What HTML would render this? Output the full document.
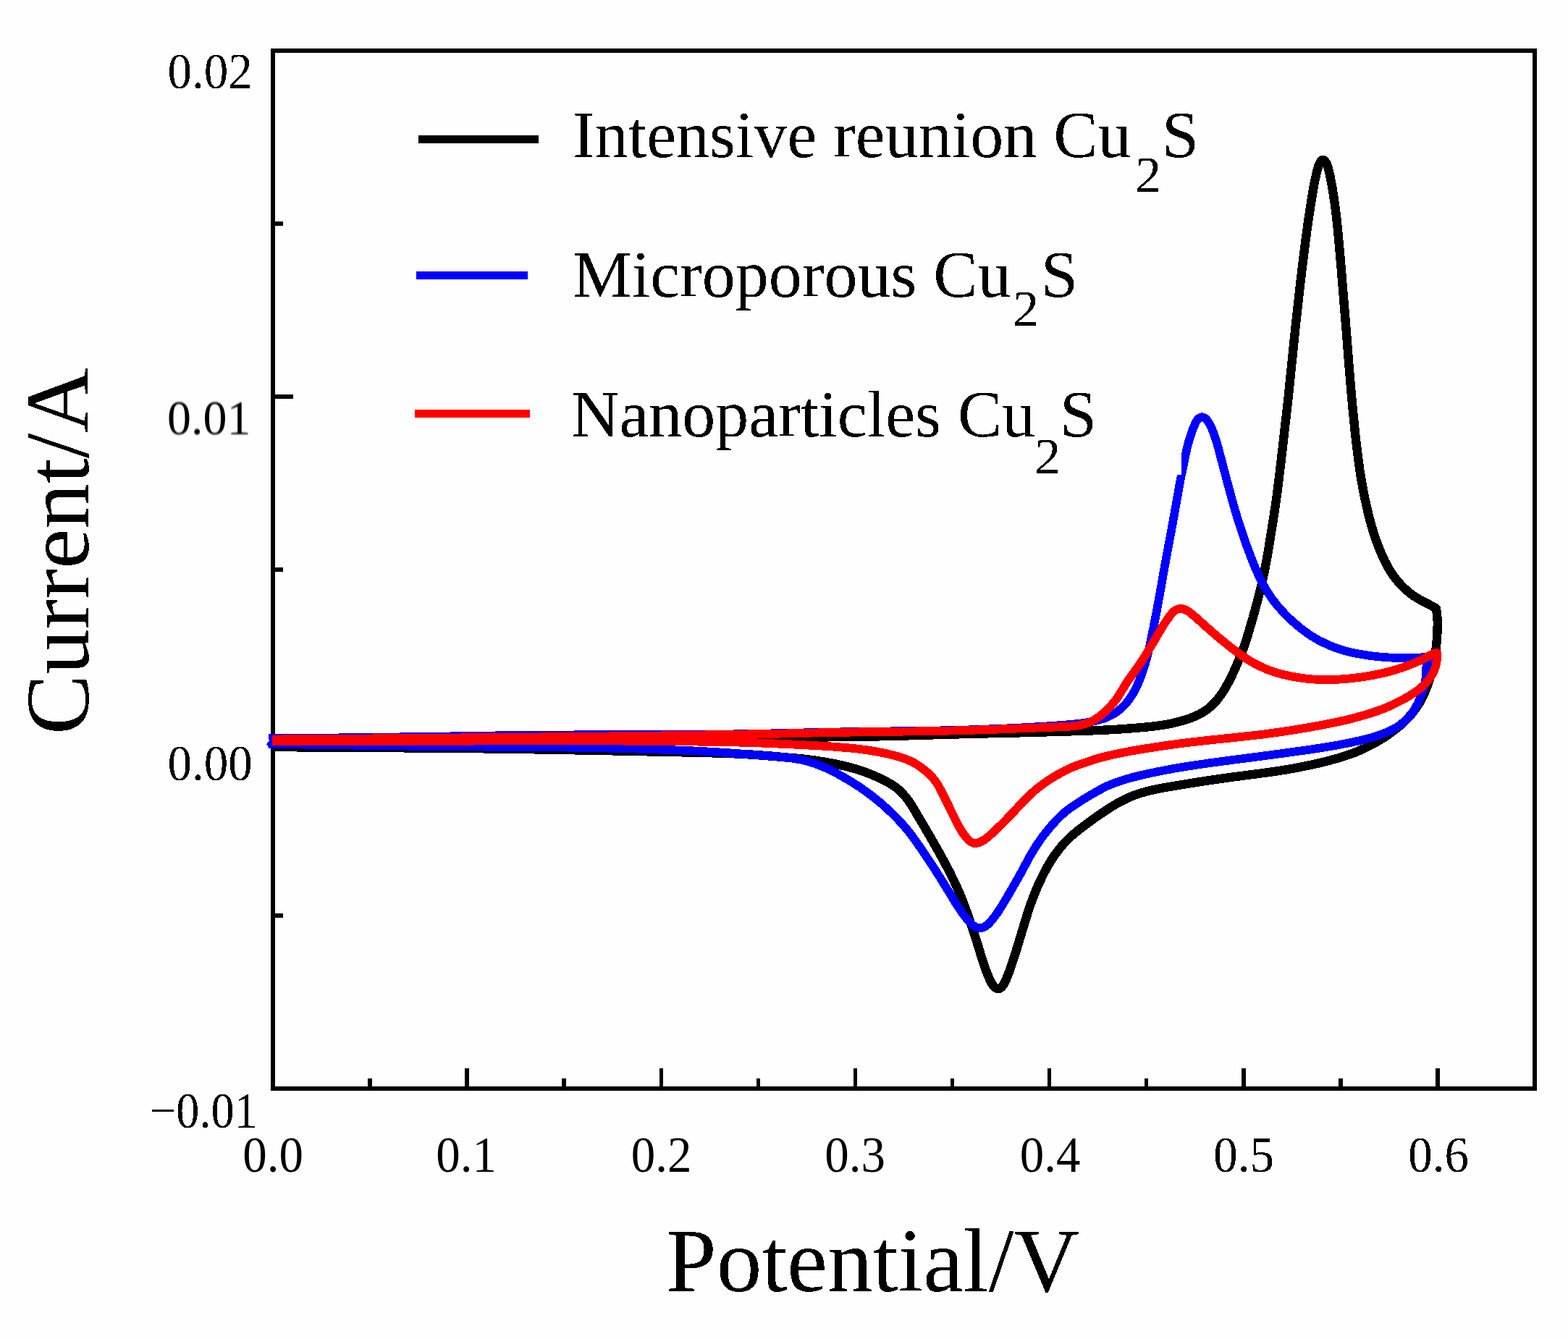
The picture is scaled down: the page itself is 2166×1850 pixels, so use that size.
<!DOCTYPE html>
<html lang="en"><head><meta charset="utf-8"><title>Cyclic voltammetry of Cu2S samples</title>
<style>
html,body{margin:0;padding:0;background:#fefefe;}
body{width:2166px;height:1850px;overflow:hidden;}
svg{display:block;}
text{font-family:"Liberation Serif","DejaVu Serif",serif;fill:#000;}
.tk{font-size:67px;}
.ax{font-size:125px;}
.lg{font-size:92px;}
.sb{font-size:66px;}
.c path{fill:none;stroke-linejoin:round;stroke-linecap:butt;}
</style></head><body>
<svg width="2166" height="1850" viewBox="0 0 2166 1850">
<defs>
<filter id="bw" x="-5%" y="-20%" width="110%" height="140%" color-interpolation-filters="sRGB"><feComponentTransfer><feFuncA type="discrete" tableValues="0 1"/></feComponentTransfer></filter>
<filter id="soft" x="-5%" y="-20%" width="110%" height="140%" color-interpolation-filters="sRGB"><feGaussianBlur stdDeviation="0.8"/></filter>
<filter id="soft2" x="-5%" y="-20%" width="110%" height="140%" color-interpolation-filters="sRGB"><feGaussianBlur stdDeviation="0.55"/></filter>
</defs>
<rect x="0" y="0" width="2166" height="1850" fill="#fefefe"/>

<g shape-rendering="crispEdges" fill="none" stroke="#000">
<rect x="377" y="70" width="1743" height="1434" stroke-width="6"/>
<path d="M511.1,1504V1490M645.2,1504V1476M779.2,1504V1490M913.3,1504V1476M1047.4,1504V1490M1181.5,1504V1476M1315.5,1504V1490M1449.6,1504V1476M1583.7,1504V1490M1717.8,1504V1476M1851.8,1504V1490M1985.9,1504V1476M377,1265.0H391M377,1026.0H405M377,787.0H391M377,548.0H405M377,309.0H391" stroke-width="5.5"/>
</g>
<g class="c" shape-rendering="crispEdges">
<path d="M376.5,1025.0C415.8,1024.5 538.5,1023.0 612.3,1022.3C686.0,1021.6 756.0,1021.1 819.0,1020.6C882.0,1020.1 940.7,1019.8 990.0,1019.5C1039.3,1019.2 1081.2,1018.9 1115.0,1018.6C1148.8,1018.3 1171.4,1018.1 1193.0,1017.8C1214.6,1017.4 1226.3,1017.0 1244.5,1016.6C1262.8,1016.1 1282.6,1015.4 1302.7,1014.9C1322.9,1014.3 1344.9,1013.8 1365.5,1013.3C1386.0,1012.8 1407.4,1012.4 1426.0,1011.9C1444.6,1011.4 1461.9,1010.9 1477.2,1010.4C1492.4,1009.9 1504.6,1009.5 1517.6,1009.0C1530.6,1008.4 1543.1,1007.8 1555.3,1006.9C1567.4,1006.0 1579.9,1005.0 1590.4,1003.8C1600.9,1002.6 1609.4,1001.4 1618.0,999.6C1626.6,997.8 1634.7,995.6 1641.9,993.1C1649.0,990.6 1655.3,987.9 1660.7,984.7C1666.2,981.6 1670.2,978.5 1674.5,974.3C1678.8,970.2 1682.8,965.6 1686.7,959.9C1690.7,954.3 1694.5,947.6 1698.3,940.2C1702.1,932.9 1706.1,924.1 1709.7,915.8C1713.2,907.6 1716.6,899.0 1719.5,890.6C1722.4,882.2 1724.8,873.9 1727.2,865.5C1729.7,857.1 1732.1,848.8 1734.3,840.4C1736.6,832.0 1738.8,823.7 1740.8,815.3C1742.9,806.9 1744.8,798.6 1746.5,790.2C1748.2,781.8 1749.6,774.3 1751.2,765.1C1752.8,755.9 1754.1,747.6 1756.1,735.1C1758.1,722.7 1760.8,706.1 1763.0,690.4C1765.1,674.8 1767.2,657.2 1769.1,641.4C1771.0,625.5 1772.7,610.5 1774.4,595.2C1776.1,579.9 1777.9,565.2 1779.6,549.4C1781.3,533.6 1782.9,516.9 1784.6,500.4C1786.3,483.9 1788.0,466.1 1789.7,450.3C1791.4,434.5 1793.3,417.9 1794.7,405.5C1796.1,393.0 1797.0,384.8 1798.1,375.6C1799.2,366.5 1800.1,359.0 1801.2,350.6C1802.2,342.2 1803.3,333.9 1804.4,325.5C1805.6,317.1 1806.7,308.8 1807.9,300.4C1809.2,292.0 1810.5,283.2 1811.8,275.3C1813.1,267.4 1814.5,258.9 1815.7,252.7C1817.0,246.4 1817.9,242.2 1819.0,237.8C1820.2,233.4 1821.3,228.8 1822.7,226.0C1824.1,223.2 1826.0,220.8 1827.6,220.8C1829.2,220.8 1831.1,223.2 1832.5,226.0C1833.9,228.8 1835.0,233.3 1836.1,237.8C1837.2,242.2 1838.1,246.4 1839.2,252.7C1840.4,258.9 1841.7,267.4 1842.9,275.3C1844.1,283.2 1845.2,292.0 1846.2,300.4C1847.1,308.8 1847.9,317.1 1848.7,325.5C1849.5,333.9 1850.3,342.2 1851.0,350.6C1851.7,359.0 1852.3,366.5 1853.1,375.6C1853.8,384.8 1854.5,393.0 1855.5,405.5C1856.5,417.9 1857.9,434.5 1859.2,450.3C1860.5,466.1 1861.8,483.7 1863.1,500.4C1864.5,517.1 1865.8,534.4 1867.3,550.6C1868.8,566.8 1870.5,583.8 1871.9,597.6C1873.4,611.4 1874.8,622.8 1876.2,633.3C1877.5,643.7 1878.6,651.5 1880.0,660.2C1881.5,668.9 1883.0,676.9 1884.7,685.3C1886.4,693.7 1888.2,702.0 1890.3,710.4C1892.4,718.8 1894.6,727.1 1897.3,735.5C1899.9,743.9 1903.1,752.7 1906.3,760.6C1909.6,768.5 1913.6,776.9 1917.0,783.2C1920.4,789.4 1923.4,793.6 1926.8,798.2C1930.3,802.8 1933.7,806.7 1937.6,810.6C1941.5,814.5 1946.1,818.4 1950.2,821.5C1954.3,824.5 1958.2,826.6 1962.0,828.9C1965.9,831.1 1969.6,832.8 1973.3,834.8C1977.0,836.8 1982.2,839.6 1984.0,840.6C1984.3,843.4 1985.5,851.6 1985.7,857.6C1985.9,863.6 1985.6,870.0 1985.3,876.5C1984.9,883.0 1984.6,889.2 1983.6,896.5C1982.7,903.8 1981.4,912.0 1979.6,920.2C1977.7,928.3 1975.6,937.2 1972.6,945.4C1969.6,953.7 1966.2,962.0 1961.6,969.7C1957.0,977.5 1951.8,984.8 1945.0,992.0C1938.1,999.3 1928.5,1007.2 1920.4,1013.1C1912.4,1019.1 1904.3,1023.7 1896.6,1027.9C1888.9,1032.1 1882.4,1035.3 1874.2,1038.6C1866.1,1041.9 1857.8,1044.7 1847.5,1047.7C1837.2,1050.7 1824.5,1053.9 1812.5,1056.5C1800.5,1059.1 1787.6,1061.5 1775.5,1063.6C1763.4,1065.6 1751.9,1067.1 1740.2,1068.7C1728.5,1070.3 1717.2,1071.6 1705.2,1073.2C1693.2,1074.9 1680.7,1076.7 1668.2,1078.5C1655.8,1080.4 1642.7,1082.4 1630.6,1084.5C1618.4,1086.5 1605.9,1088.4 1595.4,1090.7C1585.0,1093.1 1576.6,1095.1 1567.8,1098.4C1559.0,1101.6 1550.8,1105.8 1542.7,1110.3C1534.6,1114.8 1526.1,1120.6 1519.1,1125.4C1512.1,1130.1 1506.1,1134.7 1500.5,1138.9C1494.8,1143.1 1490.0,1146.7 1485.2,1150.7C1480.5,1154.7 1476.3,1158.4 1472.1,1162.7C1468.0,1167.1 1463.9,1172.1 1460.3,1176.8C1456.7,1181.5 1453.8,1185.9 1450.7,1191.0C1447.6,1196.1 1444.8,1200.8 1441.6,1207.3C1438.3,1213.8 1434.3,1222.2 1431.0,1230.2C1427.6,1238.2 1424.5,1246.9 1421.6,1255.3C1418.8,1263.7 1416.4,1272.0 1413.8,1280.4C1411.2,1288.8 1408.7,1297.3 1406.2,1305.5C1403.7,1313.7 1401.1,1322.2 1398.7,1329.3C1396.3,1336.4 1394.1,1342.7 1391.9,1348.1C1389.7,1353.4 1387.8,1358.5 1385.6,1361.5C1383.4,1364.5 1381.1,1366.0 1378.8,1366.0C1376.5,1366.0 1374.1,1364.5 1371.8,1361.5C1369.5,1358.5 1367.2,1353.4 1364.9,1348.1C1362.6,1342.7 1360.4,1336.4 1358.0,1329.3C1355.6,1322.2 1353.3,1313.7 1350.7,1305.5C1348.1,1297.3 1345.2,1288.8 1342.4,1280.4C1339.6,1272.0 1336.9,1263.7 1333.8,1255.3C1330.7,1246.9 1327.5,1238.6 1323.8,1230.2C1320.2,1221.8 1315.9,1213.1 1311.9,1205.1C1307.9,1197.1 1303.7,1189.4 1299.6,1182.0C1295.6,1174.7 1292.5,1169.4 1287.7,1160.9C1282.8,1152.4 1275.9,1140.6 1270.3,1131.3C1264.7,1122.0 1259.7,1112.4 1254.2,1105.2C1248.7,1097.9 1244.2,1092.9 1237.5,1087.8C1230.7,1082.7 1221.8,1078.3 1213.6,1074.4C1205.4,1070.5 1196.6,1067.2 1188.2,1064.4C1179.8,1061.6 1171.5,1059.5 1163.1,1057.5C1154.7,1055.5 1146.4,1053.9 1138.0,1052.5C1129.6,1051.1 1121.3,1050.0 1112.9,1049.0C1104.5,1048.0 1096.2,1047.3 1087.8,1046.6C1079.4,1045.8 1071.5,1045.1 1062.7,1044.4C1053.9,1043.7 1045.6,1043.0 1035.1,1042.4C1024.6,1041.8 1015.2,1041.3 999.5,1040.7C983.8,1040.2 969.8,1040.0 941.0,1039.3C912.2,1038.7 865.7,1037.7 827.0,1036.9C788.3,1036.2 748.7,1035.4 709.0,1034.8C669.3,1034.3 635.5,1033.9 589.0,1033.5C542.5,1033.2 465.7,1032.8 430.3,1032.5C394.9,1032.2 385.5,1032.1 376.5,1032.0" stroke="#000" stroke-width="12.4" stroke-linejoin="miter" stroke-miterlimit="3"/>
<path d="M371.5,1020.3C381.1,1020.2 393.1,1020.2 429.3,1019.8C465.6,1019.4 542.4,1018.5 589.0,1017.9C635.6,1017.2 669.3,1016.5 709.0,1016.0C748.7,1015.6 788.3,1015.3 827.0,1015.1C865.7,1015.0 911.4,1015.2 941.0,1015.0C970.6,1014.9 984.3,1014.7 1004.5,1014.5C1024.8,1014.2 1042.6,1013.8 1062.7,1013.4C1082.9,1013.0 1104.9,1012.5 1125.4,1012.0C1146.0,1011.6 1166.5,1011.2 1185.9,1010.9C1205.4,1010.6 1222.7,1010.5 1242.1,1010.2C1261.6,1009.9 1282.2,1009.8 1302.7,1009.3C1323.3,1008.9 1345.4,1008.2 1365.5,1007.4C1385.6,1006.7 1407.2,1005.6 1423.2,1004.7C1439.2,1003.9 1451.5,1003.0 1461.2,1002.3C1470.8,1001.6 1474.8,1001.3 1481.2,1000.7C1487.6,1000.1 1493.6,999.5 1499.5,998.6C1505.4,997.6 1511.5,996.4 1516.6,995.1C1521.7,993.7 1525.8,992.5 1530.2,990.6C1534.5,988.7 1538.6,986.4 1542.7,983.5C1546.8,980.5 1551.0,977.0 1554.7,972.9C1558.3,968.8 1561.5,964.4 1564.8,958.9C1568.0,953.3 1571.3,946.8 1574.2,939.6C1577.1,932.4 1580.0,923.9 1582.4,915.7C1584.7,907.5 1586.6,899.0 1588.5,890.6C1590.4,882.2 1592.0,873.9 1593.7,865.5C1595.3,857.1 1597.0,848.8 1598.5,840.4C1600.1,832.0 1601.6,823.7 1603.1,815.3C1604.6,806.9 1606.0,798.6 1607.5,790.2C1609.0,781.8 1610.5,773.5 1612.0,765.2C1613.6,756.9 1615.2,748.7 1616.7,740.4C1618.2,732.1 1619.7,723.9 1621.2,715.6C1622.7,707.3 1624.3,698.5 1625.7,690.6C1627.1,682.7 1628.5,674.3 1629.7,668.0C1630.9,661.7 1631.7,657.5 1632.7,652.9C1633.6,648.3 1634.3,644.6 1635.2,640.4C1636.1,636.2 1636.9,632.0 1637.8,627.8C1638.7,623.6 1639.6,619.5 1640.7,615.3C1641.8,611.1 1643.0,606.8 1644.3,602.7C1645.6,598.6 1647.1,594.5 1648.7,590.7C1650.3,587.0 1651.8,582.8 1653.8,580.4C1655.8,578.0 1658.3,576.1 1660.6,576.1C1662.8,576.1 1665.2,578.0 1667.3,580.4C1669.4,582.8 1671.5,587.0 1673.3,590.7C1675.0,594.5 1676.5,598.2 1678.0,602.7C1679.6,607.2 1680.8,611.5 1682.6,617.8C1684.3,624.1 1686.5,632.4 1688.6,640.4C1690.7,648.4 1693.0,657.1 1695.2,665.5C1697.5,673.9 1699.7,682.2 1702.0,690.6C1704.4,699.0 1706.7,707.3 1709.3,715.6C1711.9,723.9 1714.7,732.1 1717.5,740.4C1720.3,748.7 1723.1,756.9 1726.3,765.2C1729.5,773.5 1732.7,782.0 1736.5,790.2C1740.2,798.4 1744.0,806.6 1748.6,814.2C1753.2,821.8 1757.7,828.6 1763.9,836.0C1770.0,843.3 1777.8,851.6 1785.5,858.5C1793.2,865.5 1801.9,872.4 1810.2,877.9C1818.5,883.3 1826.9,887.6 1835.3,891.3C1843.7,894.9 1852.0,897.6 1860.4,899.9C1868.8,902.1 1877.1,903.6 1885.5,904.9C1893.9,906.3 1902.2,907.1 1910.6,907.9C1919.0,908.6 1927.9,909.0 1935.7,909.2C1943.5,909.4 1951.9,909.0 1957.4,908.8C1962.9,908.5 1965.6,908.1 1968.6,907.7C1971.6,907.4 1974.2,906.7 1975.3,906.5C1974.8,907.6 1973.3,910.5 1972.5,913.0C1971.7,915.5 1970.9,918.4 1970.4,921.2C1970.0,924.0 1969.9,927.1 1969.7,930.0C1969.5,933.0 1969.6,936.0 1969.2,938.9C1968.9,941.9 1968.3,944.4 1967.4,947.6C1966.6,950.9 1965.5,954.5 1964.1,958.3C1962.8,962.1 1961.1,966.4 1959.1,970.6C1957.1,974.7 1954.8,979.0 1952.0,983.1C1949.1,987.2 1945.9,991.5 1942.0,995.2C1938.0,998.9 1933.7,1002.3 1928.3,1005.5C1922.8,1008.6 1916.5,1011.6 1909.3,1014.2C1902.2,1016.9 1893.7,1019.4 1885.5,1021.5C1877.3,1023.6 1868.8,1025.3 1860.4,1027.0C1852.0,1028.7 1843.7,1030.2 1835.3,1031.6C1826.9,1033.0 1818.6,1034.3 1810.2,1035.5C1801.8,1036.8 1793.3,1037.9 1785.1,1039.0C1776.9,1040.2 1769.0,1041.2 1761.0,1042.3C1753.0,1043.4 1746.5,1044.2 1737.2,1045.5C1727.9,1046.7 1716.7,1048.1 1705.2,1049.6C1693.7,1051.1 1680.7,1052.8 1668.2,1054.6C1655.8,1056.4 1642.5,1058.3 1630.6,1060.3C1618.7,1062.3 1606.2,1064.7 1596.8,1066.6C1587.5,1068.5 1581.6,1069.8 1574.5,1071.5C1567.4,1073.3 1561.6,1074.6 1554.2,1076.9C1546.8,1079.3 1538.2,1082.0 1530.2,1085.6C1522.2,1089.3 1513.4,1094.4 1506.0,1098.7C1498.7,1102.9 1491.9,1107.3 1486.3,1111.1C1480.6,1114.9 1476.6,1117.6 1472.1,1121.2C1467.7,1124.8 1463.8,1128.6 1459.6,1133.0C1455.4,1137.3 1451.2,1142.1 1447.0,1147.3C1442.8,1152.4 1438.6,1157.9 1434.5,1164.0C1430.4,1170.0 1426.4,1176.7 1422.4,1183.6C1418.4,1190.6 1414.8,1198.0 1410.5,1205.8C1406.2,1213.5 1401.2,1222.4 1396.6,1230.2C1392.1,1238.0 1387.2,1246.6 1383.2,1252.8C1379.3,1259.0 1376.5,1263.2 1373.2,1267.5C1369.8,1271.8 1366.4,1276.1 1363.0,1278.6C1359.6,1281.1 1356.2,1282.4 1352.9,1282.3C1349.7,1282.2 1346.7,1280.5 1343.5,1278.0C1340.3,1275.5 1337.1,1271.5 1333.7,1267.3C1330.4,1263.1 1327.5,1259.0 1323.4,1252.8C1319.4,1246.6 1314.5,1238.1 1309.5,1230.2C1304.6,1222.3 1299.0,1213.1 1293.9,1205.1C1288.8,1197.1 1283.3,1189.0 1278.9,1182.3C1274.4,1175.7 1271.3,1171.0 1267.2,1165.2C1263.0,1159.4 1259.0,1153.4 1254.0,1147.4C1249.1,1141.4 1244.2,1135.7 1237.5,1129.0C1230.7,1122.3 1221.8,1113.8 1213.6,1107.0C1205.4,1100.1 1196.6,1093.7 1188.2,1087.9C1179.8,1082.2 1171.5,1077.2 1163.1,1072.5C1154.7,1067.8 1146.4,1063.3 1138.0,1059.8C1129.6,1056.2 1121.7,1053.4 1112.9,1051.2C1104.1,1048.9 1096.2,1047.7 1085.3,1046.4C1074.4,1045.1 1061.6,1044.4 1047.7,1043.3C1033.8,1042.2 1019.8,1041.0 1002.0,1039.9C984.3,1038.8 970.2,1037.7 941.0,1036.6C911.8,1035.5 865.7,1034.1 827.0,1033.3C788.3,1032.5 748.7,1032.4 709.0,1032.0C669.3,1031.6 635.6,1031.5 589.0,1031.0C542.4,1030.5 465.6,1029.3 429.3,1028.8C393.1,1028.3 381.1,1028.1 371.5,1028.0" stroke="#0000fe" stroke-width="11.7"/>
<path d="M372,1023L368,1028.6L372,1033.6z" style="fill:#0000fe;stroke:none"/>
<rect x="1618" y="626" width="14.2" height="30" style="fill:#fefefe;stroke:none"/>
<path d="M376.0,1021.5C385.0,1021.4 394.7,1021.4 430.2,1021.1C465.7,1020.8 542.5,1020.2 589.0,1019.8C635.5,1019.4 669.3,1019.2 709.0,1018.8C748.7,1018.5 788.3,1018.1 827.0,1017.6C865.7,1017.1 911.4,1016.5 941.0,1016.0C970.6,1015.6 984.3,1015.2 1004.5,1014.9C1024.8,1014.5 1042.6,1014.3 1062.7,1013.9C1082.9,1013.5 1104.9,1013.0 1125.4,1012.5C1146.0,1012.1 1166.5,1011.7 1185.9,1011.4C1205.4,1011.1 1222.7,1011.0 1242.1,1010.7C1261.6,1010.4 1282.2,1010.3 1302.7,1009.8C1323.3,1009.4 1345.4,1008.7 1365.5,1008.0C1385.6,1007.4 1407.2,1006.5 1423.2,1005.9C1439.2,1005.3 1451.8,1004.8 1461.2,1004.4C1470.6,1004.0 1474.5,1003.9 1479.7,1003.5C1484.9,1003.0 1488.3,1002.7 1492.5,1001.8C1496.8,1000.9 1500.9,999.8 1505.1,997.9C1509.3,996.1 1513.4,993.7 1517.6,990.7C1521.8,987.6 1526.2,983.7 1530.2,979.7C1534.2,975.7 1538.2,971.1 1541.5,966.9C1544.7,962.7 1546.7,958.7 1549.5,954.4C1552.2,950.1 1554.8,945.5 1557.8,941.1C1560.7,936.7 1563.7,932.8 1567.0,928.1C1570.3,923.4 1573.5,919.4 1577.5,913.1C1581.6,906.9 1586.8,898.1 1591.3,890.6C1595.8,883.1 1600.9,874.1 1604.6,868.0C1608.4,861.9 1611.1,857.7 1613.9,853.8C1616.7,849.9 1618.8,846.9 1621.5,844.8C1624.2,842.6 1626.8,841.0 1630.0,840.9C1633.2,840.8 1636.6,841.7 1640.4,843.9C1644.2,846.1 1648.7,850.5 1652.9,854.0C1657.1,857.6 1661.3,861.6 1665.5,865.3C1669.7,869.0 1673.8,872.6 1678.0,876.2C1682.2,879.8 1686.4,883.3 1690.6,886.7C1694.8,890.1 1698.9,893.5 1703.1,896.8C1707.3,900.0 1711.5,903.1 1715.7,906.0C1719.9,908.9 1724.0,911.6 1728.2,914.1C1732.4,916.6 1736.6,918.7 1740.8,920.7C1745.0,922.7 1749.1,924.5 1753.3,926.1C1757.5,927.6 1761.7,929.0 1765.9,930.2C1770.1,931.4 1774.0,932.4 1778.4,933.3C1782.8,934.3 1786.8,935.1 1792.3,935.9C1797.8,936.8 1804.2,937.8 1811.4,938.3C1818.5,938.9 1827.1,939.2 1835.3,939.1C1843.5,939.0 1852.0,938.6 1860.4,937.8C1868.8,937.1 1877.1,936.1 1885.5,934.8C1893.9,933.5 1902.2,931.9 1910.6,930.0C1919.0,928.0 1927.4,925.7 1935.7,922.9C1944.0,920.1 1952.3,916.7 1960.2,913.2C1968.0,909.8 1978.6,903.2 1982.7,902.2C1986.8,901.2 1984.7,905.5 1985.0,907.5C1985.3,909.5 1985.2,911.0 1984.6,914.1C1984.0,917.2 1982.9,922.4 1981.3,926.2C1979.8,929.9 1977.6,933.4 1975.3,936.7C1973.0,940.0 1970.6,942.9 1967.5,946.0C1964.5,949.0 1962.3,951.2 1957.0,954.9C1951.7,958.5 1943.4,963.7 1935.7,967.8C1928.0,971.9 1919.0,976.0 1910.6,979.4C1902.2,982.7 1893.9,985.3 1885.5,987.8C1877.1,990.3 1868.8,992.4 1860.4,994.5C1852.0,996.5 1843.7,998.2 1835.3,999.9C1826.9,1001.6 1818.6,1003.1 1810.2,1004.6C1801.8,1006.1 1793.3,1007.5 1785.1,1008.8C1776.9,1010.1 1769.0,1011.3 1761.0,1012.4C1753.0,1013.5 1746.5,1014.4 1737.2,1015.5C1727.9,1016.6 1716.7,1017.8 1705.2,1019.0C1693.7,1020.2 1680.7,1021.5 1668.2,1022.9C1655.8,1024.3 1643.1,1025.6 1630.6,1027.2C1618.0,1028.9 1605.5,1030.7 1592.9,1032.7C1580.4,1034.6 1567.2,1036.7 1555.3,1039.0C1543.4,1041.3 1530.8,1044.1 1521.6,1046.4C1512.5,1048.8 1506.5,1051.0 1500.5,1053.1C1494.4,1055.1 1490.0,1056.7 1485.2,1058.5C1480.5,1060.4 1476.4,1062.2 1472.1,1064.3C1467.8,1066.4 1463.8,1068.7 1459.6,1071.1C1455.4,1073.6 1451.2,1076.1 1447.0,1078.9C1442.8,1081.7 1438.7,1084.7 1434.5,1088.0C1430.3,1091.3 1426.2,1095.0 1422.0,1099.0C1417.8,1102.9 1413.6,1107.4 1409.4,1111.7C1405.2,1116.1 1401.1,1120.9 1396.9,1125.3C1392.7,1129.7 1388.5,1134.0 1384.3,1138.1C1380.1,1142.3 1376.0,1146.4 1371.8,1150.2C1367.6,1153.9 1363.3,1158.2 1359.2,1160.7C1355.1,1163.2 1350.4,1164.9 1347.3,1165.2C1344.2,1165.5 1342.6,1164.1 1340.4,1162.6C1338.2,1161.1 1336.3,1159.1 1334.1,1156.4C1331.9,1153.7 1329.9,1151.0 1327.2,1146.4C1324.5,1141.9 1321.4,1135.9 1318.0,1129.1C1314.5,1122.3 1310.4,1113.0 1306.6,1105.5C1302.8,1098.0 1298.5,1089.4 1295.2,1083.8C1291.8,1078.3 1289.5,1075.7 1286.5,1072.4C1283.5,1069.1 1280.6,1066.7 1277.0,1063.9C1273.4,1061.1 1269.2,1057.9 1265.1,1055.4C1260.9,1052.9 1257.0,1051.0 1252.2,1049.1C1247.4,1047.2 1242.7,1045.7 1236.2,1044.0C1229.7,1042.3 1221.7,1040.4 1213.3,1038.9C1204.9,1037.3 1196.1,1035.9 1185.7,1034.7C1175.2,1033.5 1162.7,1032.5 1150.6,1031.6C1138.5,1030.7 1125.5,1030.1 1113.0,1029.4C1100.4,1028.7 1087.9,1028.1 1075.3,1027.6C1062.7,1027.0 1050.2,1026.5 1037.6,1026.1C1025.0,1025.7 1015.6,1025.4 999.5,1025.1C983.4,1024.8 969.8,1024.6 941.0,1024.3C912.2,1024.0 865.7,1023.6 827.0,1023.4C788.3,1023.3 748.7,1023.3 709.0,1023.4C669.3,1023.4 635.5,1023.8 589.0,1024.0C542.5,1024.1 465.7,1024.1 430.2,1024.2C394.7,1024.2 385.0,1024.2 376.0,1024.2" stroke="#fe0000" stroke-width="11.8"/>
</g>
<text class="tk" transform="translate(231.5,122) scale(1,1.047)" filter="url(#bw)">0.02</text>
<text class="tk" transform="translate(231,600) scale(0.985,1)" filter="url(#soft)">0.01</text>
<text class="tk" transform="translate(231.5,1078) scale(1,1.047)" filter="url(#bw)">0.00</text>
<text class="tk" transform="translate(207,1558) scale(0.96,1.047)" filter="url(#bw)">−0.01</text>
<text class="tk" transform="translate(377,1619) scale(1,1.047)" text-anchor="middle" filter="url(#soft2)">0.0</text>
<text class="tk" transform="translate(644,1619) scale(1,1.047)" text-anchor="middle" filter="url(#soft2)">0.1</text>
<text class="tk" transform="translate(913.7,1619) scale(1,1.047)" text-anchor="middle" filter="url(#soft2)">0.2</text>
<text class="tk" transform="translate(1181,1619) scale(1,1.047)" text-anchor="middle" filter="url(#soft2)">0.3</text>
<text class="tk" transform="translate(1450.5,1619) scale(1,1.047)" text-anchor="middle" filter="url(#soft2)">0.4</text>
<text class="tk" transform="translate(1718,1619) scale(1,1.047)" text-anchor="middle" filter="url(#bw)">0.5</text>
<text class="tk" transform="translate(1987,1619) scale(1,1.047)" text-anchor="middle" filter="url(#bw)">0.6</text>
<text class="ax" transform="translate(920,1784) scale(1.003,1)" filter="url(#bw)">Potential/V</text>
<text class="ax" transform="translate(122,1015) rotate(-90)" filter="url(#bw)">Current/A</text>
<g shape-rendering="crispEdges" fill="none">
<path d="M578,192.5H744" stroke="#000" stroke-width="11.5"/>
<path d="M575,380.5H729" stroke="#0000fe" stroke-width="11"/>
<path d="M573,571.5H732" stroke="#fe0000" stroke-width="11"/>
</g>
<text class="lg" x="791" y="217" filter="url(#bw)">Intensive reunion Cu</text><text class="sb" transform="translate(1568,265) scale(1.1,1.047)" filter="url(#bw)">2</text><text class="lg" x="1605" y="217" filter="url(#bw)">S</text>
<text class="lg" x="791" y="410" filter="url(#bw)">Microporous Cu</text><text class="sb" transform="translate(1399,450) scale(1.1,1.047)" filter="url(#bw)">2</text><text class="lg" x="1438" y="410" filter="url(#bw)">S</text>
<text class="lg" x="789" y="603" filter="url(#bw)">Nanoparticles Cu</text><text class="sb" transform="translate(1429,654) scale(1.1,1.047)" filter="url(#bw)">2</text><text class="lg" x="1464" y="603" filter="url(#bw)">S</text>
</svg></body></html>
